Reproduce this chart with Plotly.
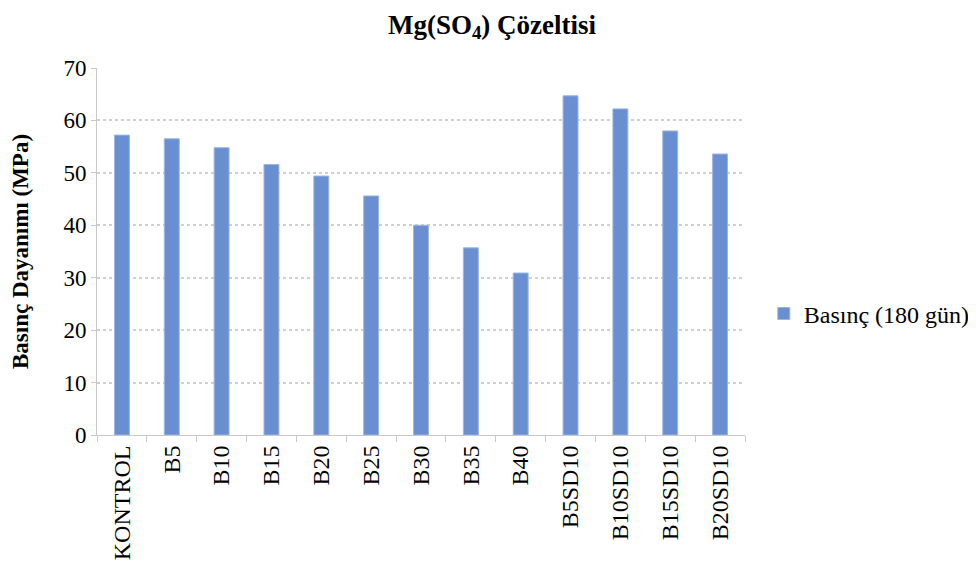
import plotly.graph_objects as go

categories = ["KONTROL", "B5", "B10", "B15", "B20", "B25", "B30", "B35", "B40",
              "B5SD10", "B10SD10", "B15SD10", "B20SD10"]
values = [57.2, 56.5, 54.8, 51.6, 49.4, 45.6, 40.0, 35.7, 30.9, 64.7, 62.2, 58.0, 53.6]
y_ticks = [0, 10, 20, 30, 40, 50, 60, 70]
series_name = "Basınç (180 gün)"

FONT = "Liberation Serif, Times New Roman, serif"

fig = go.Figure()
fig.add_trace(go.Bar(
    x=categories, y=values, name=series_name,
    marker=dict(color="#6a8fd0", line=dict(color="#9db5e3", width=1)),
    width=0.3, showlegend=True,
))

fig.update_layout(
    width=968, height=561,
    paper_bgcolor="white", plot_bgcolor="white",
    margin=dict(l=89, r=231, t=60, b=134, autoexpand=False),
    title=dict(text="<b>Mg(SO<sub>4</sub>) Çözeltisi</b>", x=0.5, xanchor="center",
               y=0.988, yanchor="top", font=dict(family=FONT, size=27, color="black")),
    font=dict(family=FONT, color="black"),
    showlegend=True,
    legend=dict(x=1.029, y=0.33, xanchor="left", yanchor="middle",
                font=dict(family=FONT, size=24, color="black"),
                itemwidth=30, bgcolor="rgba(0,0,0,0)"),
)
fig.update_xaxes(
    automargin=False,
    tickangle=-90, tickfont=dict(family=FONT, size=24, color="black"),
    showline=True, linecolor="#c8c8c8", linewidth=1,
    ticks="outside", tickson="boundaries", ticklen=6, tickcolor="#c8c8c8",
    showgrid=False,
)
fig.update_yaxes(
    automargin=False,
    range=[0, 70], tickvals=y_ticks,
    tickfont=dict(family=FONT, size=23, color="black"),
    title=dict(text="<b>Basınç Dayanımı (MPa)</b>", font=dict(family=FONT, size=23, color="black"), standoff=34),
    showline=True, linecolor="#c8c8c8", linewidth=1,
    ticks="outside", ticklen=5, tickcolor="#c8c8c8",
    showgrid=True, gridcolor="#d0d0d0", gridwidth=1.5, griddash="dot",
    zeroline=False,
)

fig.write_html("out.html")
